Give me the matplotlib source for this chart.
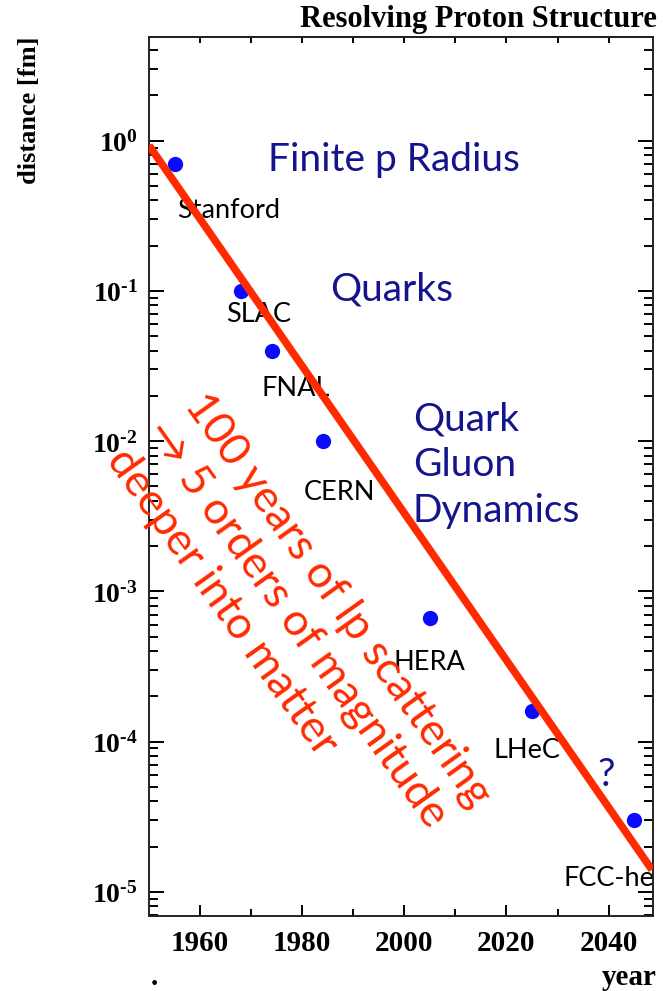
import numpy as np
import matplotlib
matplotlib.use("Agg")
import matplotlib.pyplot as plt
from matplotlib.ticker import LogLocator, FixedLocator, NullFormatter

# data
facilities = ["Stanford", "SLAC", "FNAL", "CERN", "HERA", "LHeC", "FCC-he"]
years = [1955, 1968, 1974, 1984, 2005, 2025, 2045]
distance_fm = [0.70, 0.10, 0.040, 0.010, 6.6e-4, 1.6e-4, 3.0e-5]

trend_years = [1950, 2048.5]
trend_distance = [0.93, 1.4e-5]

x_ticks = [1960, 1980, 2000, 2020, 2040]
y_ticks = [1e0, 1e-1, 1e-2, 1e-3, 1e-4, 1e-5]
y_tick_labels = [r"$\mathbf{10^{0}}$", r"$\mathbf{10^{\text{-}1}}$", r"$\mathbf{10^{\text{-}2}}$",
                 r"$\mathbf{10^{\text{-}3}}$", r"$\mathbf{10^{\text{-}4}}$", r"$\mathbf{10^{\text{-}5}}$"]

plt.rcParams["mathtext.fontset"] = "custom"
plt.rcParams["mathtext.rm"] = "Liberation Serif:bold"
plt.rcParams["mathtext.bf"] = "Liberation Serif:bold"

W, H = 663, 991
fig = plt.figure(figsize=(W / 100, H / 100), dpi=100)
ax = fig.add_axes([149 / W, 1 - 916 / H, (653 - 149) / W, (916 - 37.3) / H])

red = "#ff2a00"
navy = "#14148c"

# line sits above the labels, as in the original
ax.plot(trend_years, trend_distance, color=red, lw=5.5, solid_capstyle="butt", zorder=4)
ax.plot(years, distance_fm, "o", color="#0a0aff", ms=11, mec="none", zorder=3)

ax.set_yscale("log")
ax.set_xlim(1950, 2048.7)
ax.set_ylim(6.9e-6, 4.88)

ax.set_xticks(x_ticks)
ax.set_xticklabels([str(t) for t in x_ticks])
ax.xaxis.set_minor_locator(FixedLocator([1970, 1990, 2010, 2030]))
ax.set_yticks(y_ticks)
ax.set_yticklabels(y_tick_labels)
ax.yaxis.set_minor_locator(LogLocator(base=10, subs=np.arange(2, 10), numticks=20))
ax.yaxis.set_minor_formatter(NullFormatter())

for lab in ax.get_xticklabels():
    lab.set_fontfamily("Liberation Serif")
    lab.set_fontweight("bold")
ax.tick_params(axis="x", which="major", direction="in", length=8, width=1.4,
               labelsize=21, pad=10, top=False)
ax.tick_params(axis="x", which="minor", direction="in", length=5, width=1.4, top=False)
ax.tick_params(axis="y", which="major", direction="in", length=10.5, width=1.4,
               labelsize=20, right=True, pad=8)
ax.tick_params(axis="y", which="minor", direction="in", length=6.5, width=1.4, right=True)

top = ax.secondary_xaxis("top")
top.set_xticks([1960, 1970, 1980, 1990, 2000, 2010, 2020, 2030, 2040])
top.set_xticklabels([])
top.tick_params(direction="in", length=4.5, width=1.4)

for sp in list(ax.spines.values()) + [top.spines["top"]]:
    sp.set_linewidth(1.4)
    sp.set_color("#222222")


def fx(x):
    return x / W


def fy(y):
    return 1 - y / H


serif = dict(family="Liberation Serif", weight="bold", color="black")
fig.text(fx(657), fy(27), "Resolving Proton Structure", ha="right", va="baseline", fontsize=22, **serif)
fig.text(fx(30), fy(110), "distance [fm]", rotation=90, ha="center", va="center", fontsize=19, **serif)
fig.text(fx(657), fy(985), "year", ha="right", va="baseline", fontsize=21, **serif)
fig.text(fx(154), fy(985), ".", ha="center", va="baseline", fontsize=21, **serif)

sans = "Lato"
tf = fig.transFigure
label_pos = [(177, 210), (226, 315), (261, 388), (304, 493), (393, 662), (493, 750), (563, 878)]
for name, (px, py) in zip(facilities, label_pos):
    ax.text(fx(px), fy(py), name, transform=tf, ha="left", va="center", fontsize=19.5,
            family=sans, color="black", zorder=2)

ax.text(fx(268), fy(160), "Finite p Radius", transform=tf, ha="left", va="center", fontsize=28,
        family=sans, color=navy, zorder=2)
ax.text(fx(330), fy(290), "Quarks", transform=tf, ha="left", va="center", fontsize=28,
        family=sans, color=navy, zorder=2)
ax.text(fx(413), fy(465), "Quark\nGluon\nDynamics", transform=tf, ha="left", va="center", fontsize=28,
        family=sans, color=navy, linespacing=1.34, zorder=2)
ax.text(fx(606), fy(775), "?", transform=tf, ha="center", va="center", fontsize=28,
        family=sans, color=navy, zorder=2)

ax.text(fx(210), fy(386), "100 years of lp scattering\n\u2192 5 orders of magnitude\ndeeper into matter",
        transform=tf, ha="left", va="top", rotation=-54.5, rotation_mode="anchor", fontsize=32,
        family=[sans, "DejaVu Sans"], color=red, linespacing=1.2, zorder=5)

fig.savefig("out.png", dpi=100)
